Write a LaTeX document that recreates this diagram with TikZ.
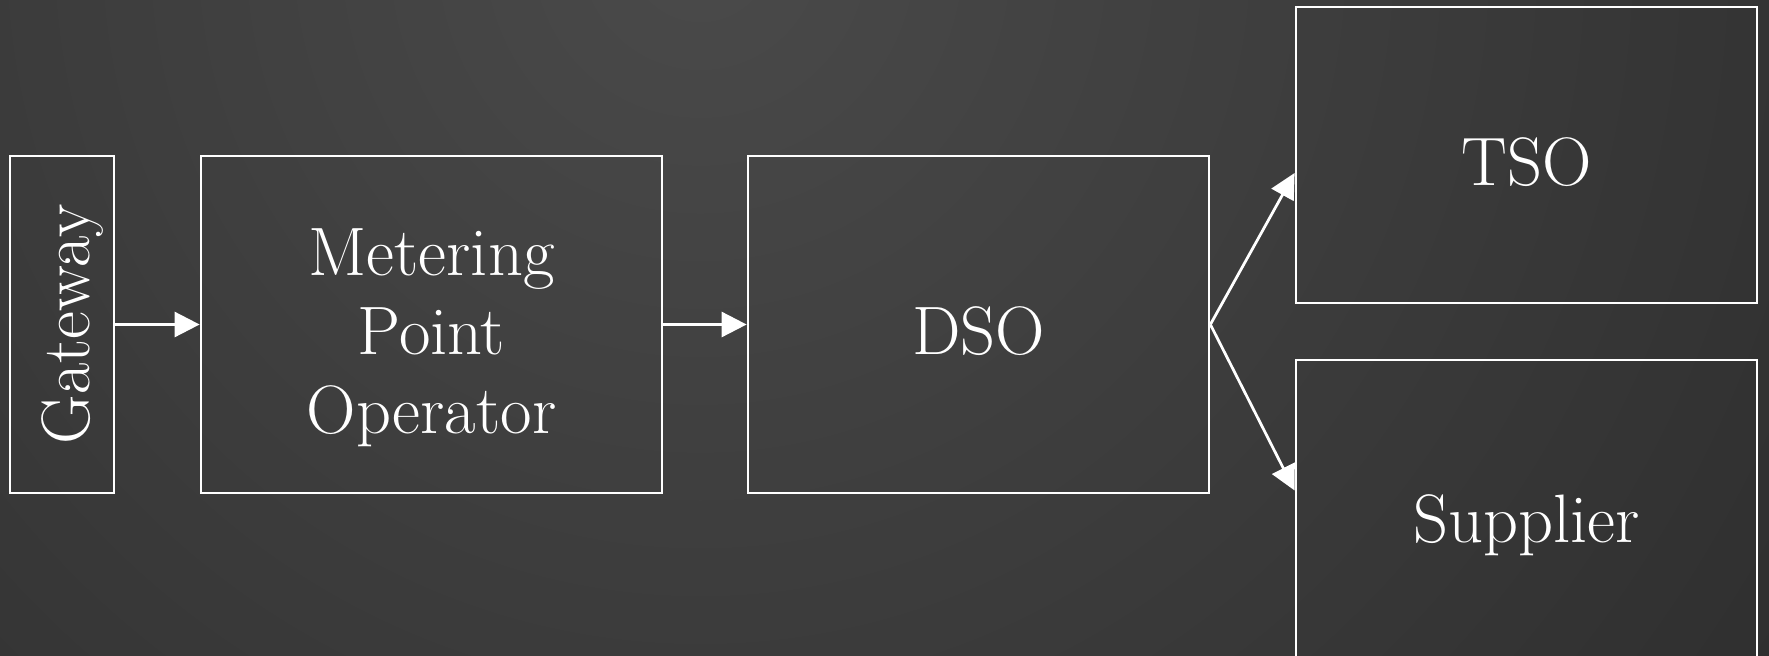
\documentclass[tikz,border=0pt]{standalone}
\usepackage{tikz}
\usetikzlibrary{arrows.meta}
\tikzset{>={Triangle[length=0.5cm,width=0.5cm]}}
\definecolor{bglight}{RGB}{74,74,74}
\definecolor{bgdark}{RGB}{28,28,28}

\begin{document}
\begin{tikzpicture}
\useasboundingbox (0,0) rectangle (35.38,-13.1);
\clip (0,0) rectangle (35.38,-13.1);
% background
\shade[inner color=bglight,outer color=bgdark] (14,1) circle (44);

\begin{scope}[every node/.style={rectangle,draw=white,line width=0.055cm,text=white,
    align=center,inner sep=0pt,text height=1.4cm,text depth=0.2cm,
    font=\fontsize{39}{45}\selectfont}]
\node[rotate=90,minimum width=6.74cm,minimum height=2.08cm,text height=1.3cm] (gw) at (1.24,-6.49) {Gateway};
% last line is the baseline here
\node[minimum width=9.22cm,minimum height=6.74cm,text height=4.56cm] (mpo) at (8.63,-6.49) {Metering\\Point\\Operator};
\node[minimum width=9.22cm,minimum height=6.74cm] (dso) at (19.57,-6.49) {DSO};
\node[minimum width=9.22cm,minimum height=5.92cm] (tso) at (30.53,-3.10) {TSO};
\node[minimum width=9.22cm,minimum height=6.10cm] (sup) at (30.53,-10.25) {Supplier};
\end{scope}

\begin{scope}[every edge/.style={draw=white,line width=0.055cm}]
    \path [->] (gw.south) edge (mpo.west);
    \path [->] (mpo.east) edge (dso.west);
    %\path [->] (dso.east) edge (tso.west);
    \path [->] (dso.east) edge ([yshift=-0.36cm]tso.west);
    \path [->] (dso.east) edge ([yshift=0.44cm]sup.west);
\end{scope}
\end{tikzpicture}
\end{document}
